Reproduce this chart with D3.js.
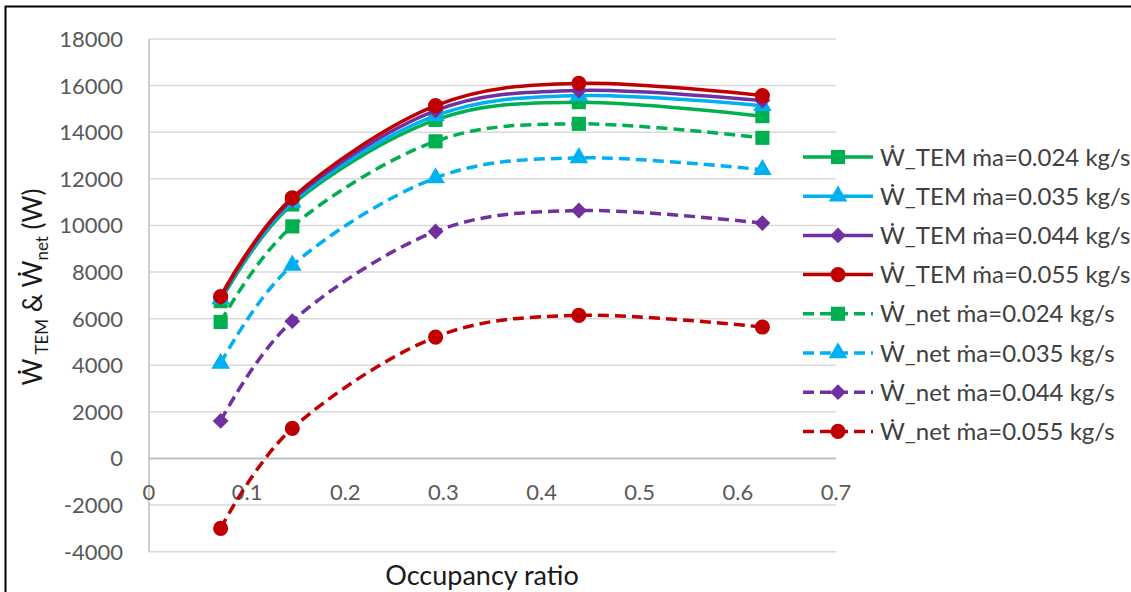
<!DOCTYPE html>
<html>
<head>
<meta charset="utf-8">
<script src="https://cdn.jsdelivr.net/npm/d3@7"></script>
<style>
  body { margin: 0; background: #fff; }
  svg { display: block; font-family: Lato, "Noto Sans", sans-serif; }
</style>
</head>
<body>
<svg id="chart" width="1131" height="592"></svg>
<script>
// Data
const occupancy = [0.073, 0.146, 0.292, 0.438, 0.625];
const wTem024 = [6750, 10900, 14530, 15290, 14690];
const wTem035 = [6850, 11000, 14710, 15570, 15140];
const wTem044 = [6900, 11100, 14930, 15790, 15360];
const wTem055 = [6950, 11190, 15140, 16100, 15570];
const wNet024 = [5860, 9960, 13610, 14360, 13760];
const wNet035 = [4080, 8290, 12040, 12900, 12390];
const wNet044 = [1610, 5890, 9740, 10640, 10100];
const wNet055 = [-3000, 1290, 5210, 6140, 5640];

const seriesNames = [
  'Ẇ_TEM ṁa=0.024 kg/s', 'Ẇ_TEM ṁa=0.035 kg/s', 'Ẇ_TEM ṁa=0.044 kg/s', 'Ẇ_TEM ṁa=0.055 kg/s',
  'Ẇ_net ṁa=0.024 kg/s', 'Ẇ_net ṁa=0.035 kg/s', 'Ẇ_net ṁa=0.044 kg/s', 'Ẇ_net ṁa=0.055 kg/s'
];
const yTicks = d3.range(-4000, 18001, 2000);
const xTicks = d3.range(0, 0.71, 0.1);

const green = '#00b050', cyan = '#00b0f0', purple = '#7030a0', red = '#c00000';
const series = [
  { values: wTem024, color: green, shape: 'square', dashed: false },
  { values: wTem035, color: cyan, shape: 'triangle', dashed: false },
  { values: wTem044, color: purple, shape: 'diamond', dashed: false },
  { values: wTem055, color: red, shape: 'circle', dashed: false },
  { values: wNet024, color: green, shape: 'square', dashed: true },
  { values: wNet035, color: cyan, shape: 'triangle', dashed: true },
  { values: wNet044, color: purple, shape: 'diamond', dashed: true },
  { values: wNet055, color: red, shape: 'circle', dashed: true }
].map((s, i) => ({ ...s, name: seriesNames[i] }));

// marker shapes (diamond = rotated square, like Excel)
const markers = {
  square: { sym: d3.symbol(d3.symbolSquare, 200), rot: 0 },
  triangle: { sym: d3.symbol(d3.symbolTriangle, 150), rot: 0 },
  diamond: { sym: d3.symbol(d3.symbolSquare, 125), rot: 45 },
  circle: { sym: d3.symbol(d3.symbolCircle, 180), rot: 0 }
};

const svg = d3.select('#chart');

// outer chart border (only top/left visible in the crop)
svg.append('rect')
  .attr('x', 5.5).attr('y', 6.5)
  .attr('width', 1400).attr('height', 800)
  .attr('fill', 'none').attr('stroke', '#000').attr('stroke-width', 2);

const x = d3.scaleLinear().domain([0, 0.7]).range([149, 836]);
const y = d3.scaleLinear().domain([-4000, 18000]).range([551.7, 39]);

// gridlines
svg.append('g').selectAll('line')
  .data(yTicks)
  .join('line')
  .attr('x1', x(0)).attr('x2', x(0.7))
  .attr('y1', d => y(d)).attr('y2', d => y(d))
  .attr('stroke', d => d === 0 ? '#bfbfbf' : '#d9d9d9')
  .attr('stroke-width', d => d === 0 ? 2 : 1.5);

// vertical axis line
svg.append('line')
  .attr('x1', x(0)).attr('x2', x(0))
  .attr('y1', y(18000)).attr('y2', y(-4000))
  .attr('stroke', '#bfbfbf').attr('stroke-width', 1.5);

// y tick labels
svg.append('g').selectAll('text')
  .data(yTicks)
  .join('text')
  .attr('x', 123).attr('y', d => y(d))
  .attr('dy', '0.36em')
  .attr('text-anchor', 'end')
  .attr('font-size', 22)
  .attr('fill', '#595959')
  .text(d => d);

// x tick labels sit just under the zero line
svg.append('g').selectAll('text')
  .data(xTicks)
  .join('text')
  .attr('x', d => x(d)).attr('y', y(0) + 42)
  .attr('text-anchor', 'middle')
  .attr('font-size', 22)
  .attr('fill', '#595959')
  .text(d => d3.format('.1~f')(d));

// axis titles
svg.append('text')
  .attr('x', 482).attr('y', 585)
  .attr('text-anchor', 'middle')
  .attr('font-size', 27)
  .attr('fill', '#1a1a1a')
  .text('Occupancy ratio');

const yTitle = svg.append('text')
  .attr('transform', 'translate(42,287) rotate(-90)')
  .attr('text-anchor', 'middle')
  .attr('font-size', 26)
  .attr('fill', '#1a1a1a');
yTitle.append('tspan').text('Ẇ');
yTitle.append('tspan').attr('font-size', 17).attr('dy', 6).text(' TEM');
yTitle.append('tspan').attr('dy', -6).text(' & Ẇ');
yTitle.append('tspan').attr('font-size', 17).attr('dy', 6).text('net');
yTitle.append('tspan').attr('dy', -6).text(' (W)');

// smoothed lines like Excel
const line = d3.line()
  .x((d, i) => x(occupancy[i]))
  .y(d => y(d))
  .curve(d3.curveCardinal.tension(0));

const plot = svg.append('g');
series.forEach(s => {
  const g = plot.append('g');
  const m = markers[s.shape];
  g.append('path')
    .attr('d', line(s.values))
    .attr('fill', 'none')
    .attr('stroke', s.color)
    .attr('stroke-width', 3.5)
    .attr('stroke-dasharray', s.dashed ? '11,6' : null);
  g.selectAll('path.marker')
    .data(s.values)
    .join('path')
    .attr('class', 'marker')
    .attr('transform', (d, i) => `translate(${x(occupancy[i])},${y(d)}) rotate(${m.rot})`)
    .attr('d', m.sym)
    .attr('fill', s.color);
});

// legend
const legend = svg.append('g');
series.forEach((s, i) => {
  const ly = 157 + i * 39.2;
  const m = markers[s.shape];
  const item = legend.append('g').attr('transform', `translate(0,${ly})`);
  item.append('line')
    .attr('x1', 803).attr('x2', 873)
    .attr('stroke', s.color).attr('stroke-width', 3.5)
    .attr('stroke-dasharray', s.dashed ? '11,6' : null);
  item.append('path')
    .attr('transform', `translate(838,0) rotate(${m.rot})`)
    .attr('d', m.sym)
    .attr('fill', s.color);
  item.append('text')
    .attr('x', 880).attr('dy', '0.36em')
    .attr('font-size', 24)
    .attr('fill', '#404040')
    .text(s.name);
});
</script>
</body>
</html>
